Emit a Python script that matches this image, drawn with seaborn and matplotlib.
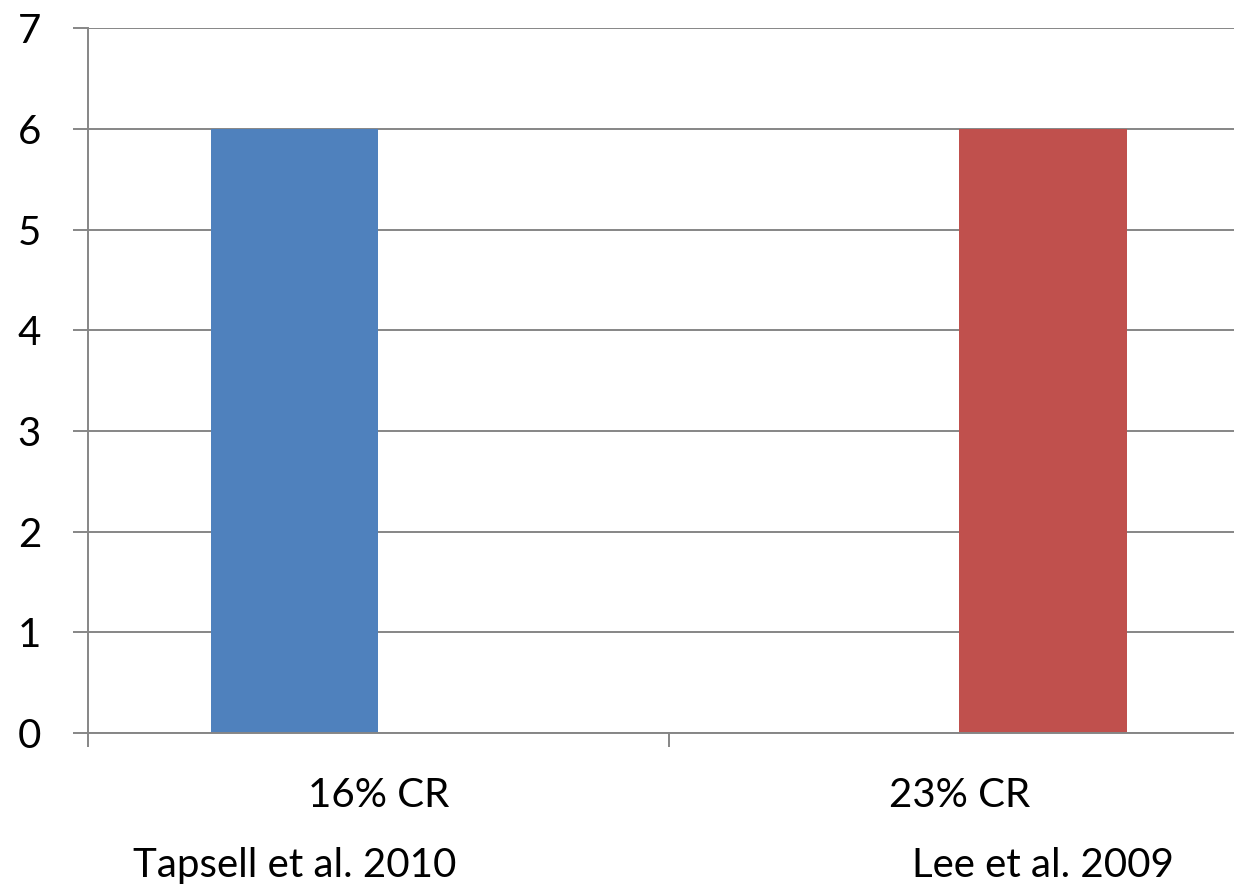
import matplotlib
matplotlib.use("Agg")
import matplotlib.pyplot as plt
import matplotlib.transforms as mtransforms
import seaborn as sns
import pandas as pd

categories = ["16% CR", "23% CR"]
studies = ["Tapsell et al. 2010", "Lee et al. 2009"]
tapsell_values = [6, 0]
lee_values = [0, 6]
colors = ["#4F81BD", "#C0504D"]
y_ticks = [0, 1, 2, 3, 4, 5, 6, 7]

df = pd.DataFrame({
    "category": categories * 2,
    "study": [studies[0]] * 2 + [studies[1]] * 2,
    "value": tapsell_values + lee_values,
})

sns.set_style("white")
plt.rcParams["font.family"] = ["Lato", "DejaVu Sans"]

fig = plt.figure(figsize=(12.34, 8.88), dpi=100)
ax = fig.add_axes([88 / 1234, (888 - 733) / 888, 1 - 88 / 1234, (733 - 28.5) / 888])

sns.barplot(data=df, x="category", y="value", hue="study", hue_order=studies,
            palette=colors, saturation=1, width=0.575, gap=0, linewidth=0,
            ax=ax, legend=False, errorbar=None)

ax.set_yticks(y_ticks)
ax.set_xlabel("")
ax.set_ylabel("")

gray = "#868686"
ax.set_axisbelow(True)
ax.yaxis.grid(True, color=gray, linewidth=1.4)
ax.xaxis.grid(False)
for s in ["top", "right"]:
    ax.spines[s].set_visible(False)
for s in ["left", "bottom"]:
    ax.spines[s].set_color(gray)
    ax.spines[s].set_linewidth(1.4)

fs = 29
ax.tick_params(axis="y", which="major", length=10.8, width=1.4, color=gray,
               direction="out", left=True, pad=23, labelsize=fs, labelcolor="black")
ax.set_xticks([0, 1])
ax.set_xticklabels(categories)
ax.set_xticks([-0.5, 0.5], minor=True)
ax.tick_params(axis="x", which="major", length=0, pad=32, labelsize=fs, labelcolor="black")
ax.tick_params(axis="x", which="minor", length=10, width=1.4, color=gray,
               direction="out", bottom=True)

ax.set_xlim(-0.5, 1.4725)
ax.set_ylim(0, 7)

# study labels under the bar that carries each study's value
trans = mtransforms.blended_transform_factory(ax.transData, fig.transFigure)
visible = [p for p in ax.patches if p.get_height() > 0]
visible.sort(key=lambda p: p.get_x())
for p, name in zip(visible, studies):
    cx = p.get_x() + p.get_width() / 2
    ax.text(cx, (888 - 877) / 888, name, transform=trans, ha="center",
            va="baseline", fontsize=fs, color="black")

fig.savefig("out.png", dpi=100)
